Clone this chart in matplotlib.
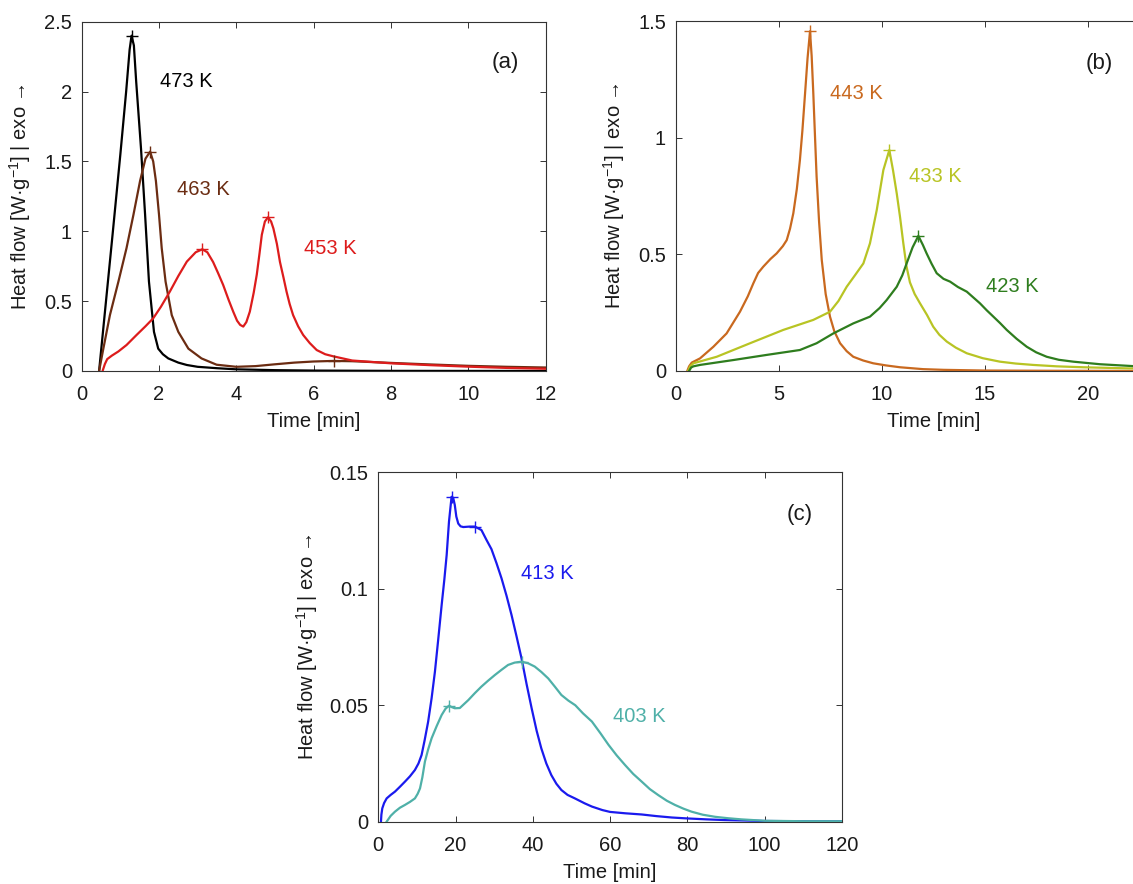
import matplotlib
matplotlib.use('Agg')
import matplotlib.pyplot as plt
from matplotlib.ticker import FuncFormatter

plt.rcParams['font.family'] = ['Liberation Sans', 'DejaVu Sans']
plt.rcParams['mathtext.fontset'] = 'custom'
plt.rcParams['mathtext.rm'] = 'Liberation Sans'
plt.rcParams['mathtext.it'] = 'Liberation Sans:italic'

# ---- panel (a) : 473 / 463 / 453 K ----
t473 = [0.45, 0.6, 0.8, 1.0, 1.15, 1.24, 1.29, 1.35, 1.41, 1.535, 1.64, 1.74, 1.87, 1.98,
        2.1, 2.24, 2.5, 2.72, 3.0, 3.5, 4.0, 5.0, 6.0, 8.0, 12.0]
q473 = [0.0, 0.42, 0.98, 1.55, 2.0, 2.30, 2.40, 2.33, 2.07, 1.59, 1.12, 0.64, 0.28, 0.16,
        0.12, 0.09, 0.06, 0.043, 0.03, 0.02, 0.012, 0.006, 0.003, 0.001, 0.0]

t463 = [0.45, 0.56, 0.73, 0.95, 1.16, 1.34, 1.51, 1.65, 1.77, 1.85, 1.92, 2.0, 2.07, 2.17,
        2.33, 2.5, 2.76, 3.1, 3.49, 4.0, 4.5, 5.0, 5.5, 6.0, 6.5, 7.0, 8.0, 9.0, 10.0, 11.0, 12.0]
q463 = [0.0, 0.16, 0.40, 0.64, 0.88, 1.12, 1.36, 1.52, 1.57, 1.50, 1.36, 1.12, 0.88, 0.64,
        0.40, 0.28, 0.16, 0.09, 0.045, 0.03, 0.035, 0.048, 0.06, 0.068, 0.072, 0.07, 0.058,
        0.047, 0.037, 0.03, 0.025]

t453 = [0.54, 0.6, 0.66, 0.78, 0.95, 1.16, 1.42, 1.65, 1.85, 2.05, 2.28, 2.5, 2.72, 2.95,
        3.12, 3.25, 3.40, 3.53, 3.66, 3.80, 3.92, 4.02, 4.10, 4.18, 4.26, 4.35, 4.45, 4.53,
        4.60, 4.66, 4.74, 4.82, 4.90, 4.96, 5.05, 5.13, 5.22, 5.30, 5.38, 5.47, 5.60, 5.73,
        5.9, 6.08, 6.3, 6.51, 7.0, 8.0, 9.0, 10.0, 11.0, 12.0]
q453 = [0.0, 0.05, 0.085, 0.11, 0.14, 0.186, 0.258, 0.32, 0.377, 0.46, 0.568, 0.68, 0.783, 0.85,
        0.871, 0.85, 0.78, 0.70, 0.616, 0.51, 0.425, 0.36, 0.33, 0.318, 0.35, 0.425, 0.56, 0.69,
        0.84, 0.975, 1.07, 1.10, 1.07, 1.02, 0.91, 0.78, 0.67, 0.568, 0.48, 0.40, 0.32, 0.258,
        0.20, 0.15, 0.12, 0.105, 0.075, 0.055, 0.042, 0.031, 0.022, 0.016]

# ---- panel (b) : 443 / 433 / 423 K ----
t443 = [0.56, 0.65, 0.78, 1.18, 1.83, 2.47, 3.12, 3.5, 3.77, 4.0, 4.25, 4.6, 4.90, 5.2, 5.39,
        5.55, 5.71, 5.88, 6.03, 6.15, 6.28, 6.40, 6.52, 6.60, 6.68, 6.76, 6.84, 6.96, 7.09,
        7.28, 7.49, 7.7, 7.98, 8.3, 8.62, 9.1, 9.59, 10.2, 10.89, 12.0, 13.0, 15.0, 18.0, 25.0]
q443 = [0.0, 0.02, 0.036, 0.054, 0.104, 0.161, 0.254, 0.32, 0.376, 0.42, 0.447, 0.48, 0.504,
        0.535, 0.561, 0.61, 0.676, 0.78, 0.904, 1.03, 1.19, 1.34, 1.456, 1.35, 1.19, 1.01, 0.833,
        0.64, 0.476, 0.33, 0.233, 0.17, 0.119, 0.085, 0.061, 0.045, 0.033, 0.024, 0.016, 0.008,
        0.005, 0.002, 0.001, 0.0]

t433 = [0.6, 0.7, 0.86, 1.99, 3.61, 5.22, 6.68, 7.49, 7.9, 8.30, 8.7, 9.11, 9.43, 9.76, 10.08,
        10.37, 10.55, 10.73, 10.89, 11.05, 11.2, 11.37, 11.6, 11.86, 12.2, 12.5, 12.8, 13.16,
        13.6, 14.13, 14.9, 15.74, 16.5, 17.36, 18.5, 19.79, 22.06, 25.0]
q433 = [0.0, 0.02, 0.033, 0.061, 0.119, 0.176, 0.219, 0.254, 0.30, 0.361, 0.41, 0.461, 0.547,
        0.69, 0.861, 0.947, 0.86, 0.761, 0.66, 0.547, 0.45, 0.38, 0.33, 0.29, 0.24, 0.19, 0.155,
        0.126, 0.10, 0.076, 0.055, 0.04, 0.032, 0.026, 0.02, 0.016, 0.011, 0.008]

t423 = [0.65, 0.75, 0.86, 1.18, 2.8, 4.42, 6.03, 6.84, 7.65, 8.62, 9.43, 9.9, 10.24, 10.73,
        11.0, 11.21, 11.5, 11.78, 12.0, 12.18, 12.42, 12.67, 13.0, 13.32, 13.7, 14.13, 14.45,
        14.77, 15.1, 15.42, 15.75, 16.07, 16.55, 17.04, 17.5, 18.01, 18.6, 19.3, 20.6, 22.2, 25.0]
q423 = [0.0, 0.015, 0.02, 0.026, 0.047, 0.069, 0.090, 0.119, 0.161, 0.204, 0.233, 0.27, 0.304,
        0.361, 0.41, 0.461, 0.53, 0.579, 0.54, 0.504, 0.46, 0.419, 0.395, 0.383, 0.36, 0.34,
        0.315, 0.29, 0.26, 0.233, 0.205, 0.176, 0.138, 0.104, 0.08, 0.061, 0.048, 0.04, 0.029,
        0.021, 0.013]

# ---- panel (c) : 413 / 403 K ----
t413 = [0.69, 0.8, 1.03, 1.5, 2.16, 3.2, 4.31, 5.6, 6.9, 8.2, 9.48, 10.4, 11.2, 12.0, 12.9,
        13.8, 14.66, 15.5, 16.4, 17.1, 17.7, 18.3, 18.97, 19.4, 19.8, 20.2, 20.7, 21.3, 22.0,
        23.7, 25.0, 26.7, 28.0, 29.3, 30.6, 31.9, 33.2, 34.5, 35.8, 37.1, 38.4, 39.7, 41.0,
        42.2, 43.5, 44.8, 46.1, 47.4, 49.0, 50.9, 53.4, 55.3, 58.0, 60.0, 64.0, 68.2, 72.0,
        76.0, 80.0, 85.0, 89.7, 95.0, 100.0, 110.0, 120.0]
q413 = [0.0, 0.003, 0.0057, 0.008, 0.010, 0.0115, 0.0129, 0.015, 0.0172, 0.0195, 0.0222, 0.025,
        0.0286, 0.035, 0.0429, 0.053, 0.0644, 0.078, 0.093, 0.104, 0.1145, 0.1288, 0.1395, 0.139,
        0.136, 0.131, 0.128, 0.1268, 0.1265, 0.1267, 0.1267, 0.1252, 0.121, 0.117, 0.111, 0.1045,
        0.097, 0.0887, 0.0795, 0.070, 0.059, 0.0487, 0.039, 0.0315, 0.025, 0.020, 0.0163, 0.0136,
        0.0115, 0.0100, 0.0079, 0.0065, 0.005, 0.0042, 0.0036, 0.0031, 0.0024, 0.0018, 0.0014,
        0.001, 0.0007, 0.0005, 0.0003, 0.0002, 0.0002]

t403 = [2.16, 3.2, 4.31, 5.6, 6.9, 8.2, 9.48, 10.2, 10.8, 11.4, 12.07, 12.9, 13.8, 15.1, 16.4,
        17.4, 18.3, 19.0, 19.8, 21.1, 22.2, 23.3, 25.0, 26.7, 28.4, 30.2, 31.9, 33.6, 35.3, 37.1,
        38.8, 40.5, 42.2, 44.0, 45.7, 47.4, 49.2, 51.0, 53.0, 55.3, 57.5, 59.6, 61.7, 63.9, 66.0,
        68.2, 70.3, 72.5, 74.7, 76.8, 79.0, 81.1, 84.0, 87.2, 90.5, 94.0, 100.0, 110.0, 120.0]
q403 = [0.0, 0.0025, 0.0043, 0.006, 0.0072, 0.0085, 0.010, 0.012, 0.0143, 0.019, 0.0258, 0.031,
        0.0358, 0.041, 0.0458, 0.0485, 0.0498, 0.0492, 0.0487, 0.0488, 0.0505, 0.0522, 0.0552,
        0.058, 0.0605, 0.063, 0.0652, 0.0673, 0.0683, 0.0687, 0.068, 0.0666, 0.0643, 0.0615,
        0.058, 0.0544, 0.052, 0.050, 0.0465, 0.043, 0.038, 0.033, 0.0285, 0.0243, 0.0205, 0.0172,
        0.014, 0.0114, 0.009, 0.0072, 0.0056, 0.0043, 0.003, 0.0021, 0.0015, 0.001, 0.0004,
        0.0002, 0.0002]

# peak markers (+)
peaks_a = {'473': ([1.29], [2.40]), '463': ([1.77, 6.53], [1.57, 0.072]),
           '453': ([3.12, 4.82], [0.871, 1.10])}
peaks_b = {'443': ([6.52], [1.456]), '433': ([10.37], [0.947]), '423': ([11.78], [0.579])}
peaks_c = {'413': ([18.97, 25.0], [0.1395, 0.1267]), '403': ([18.3, 37.3], [0.0498, 0.0687])}

col = {'473': '#000000', '463': '#6b2c12', '453': '#dd1c1c',
       '443': '#c9691f', '433': '#b8c424', '423': '#2e7d1e',
       '413': '#1a1aee', '403': '#4fb0a8'}

FS = 14.5     # tick / label / annotation size

W, H = 1133, 884
fig = plt.figure(figsize=(W / 100, H / 100), dpi=100)


def px_axes(left, right, top, bottom):
    return fig.add_axes([left / W, 1 - bottom / H, (right - left) / W, (bottom - top) / H])


def style(ax, xlim, ylim, xticks, yticks, ylab_x):
    ax.set_xlim(xlim)
    ax.set_ylim(ylim)
    ax.set_xticks(xticks)
    ax.set_yticks(yticks)
    fmt = FuncFormatter(lambda v, p: '%g' % round(v, 4))
    ax.xaxis.set_major_formatter(fmt)
    ax.yaxis.set_major_formatter(fmt)
    ax.tick_params(direction='in', top=True, right=True, length=4, width=0.7,
                   color='#333333', labelsize=FS, labelcolor='#1a1a1a')
    ax.tick_params(axis='x', pad=10)
    ax.tick_params(axis='y', pad=7)
    for s in ax.spines.values():
        s.set_color('#333333')
        s.set_linewidth(0.8)
    ax.set_xlabel('Time [min]', fontsize=FS, color='#1a1a1a', labelpad=6)
    ax.set_ylabel('Heat flow [W·g$^{-1}$] | exo →', fontsize=FS, color='#1a1a1a')
    ax.yaxis.set_label_coords(ylab_x, 0.5)


def draw(ax, t, q, key, peaks):
    ax.plot(t, q, color=col[key], lw=1.6, zorder=3)
    px, py = peaks[key]
    ax.plot(px, py, ls='none', marker='+', ms=9, mew=1.0, color=col[key], zorder=4)


# (a)
ax_a = px_axes(81.7, 545.5, 21.7, 371)
draw(ax_a, t473, q473, '473', peaks_a)
draw(ax_a, t463, q463, '463', peaks_a)
draw(ax_a, t453, q453, '453', peaks_a)
style(ax_a, (0, 12), (0, 2.5), range(0, 13, 2), [0, 0.5, 1, 1.5, 2, 2.5], -0.105)
ax_a.text(2.03, 2.07, '473 K', color=col['473'], fontsize=FS, va='center')
ax_a.text(2.47, 1.296, '463 K', color=col['463'], fontsize=FS, va='center')
ax_a.text(5.74, 0.878, '453 K', color=col['453'], fontsize=FS, va='center')
ax_a.text(10.95, 2.21, '(a)', fontsize=16, ha='center', va='center', color='#1a1a1a')

# (b) – axes run past the right edge of the figure, as in the source
ax_b = px_axes(675.7, 1190.7, 21, 371)
draw(ax_b, t443, q443, '443', peaks_b)
draw(ax_b, t433, q433, '433', peaks_b)
draw(ax_b, t423, q423, '423', peaks_b)
style(ax_b, (0, 25), (0, 1.5), range(0, 21, 5), [0, 0.5, 1, 1.5], -0.095)
ax_b.text(7.49, 1.19, '443 K', color=col['443'], fontsize=FS, va='center')
ax_b.text(11.33, 0.833, '433 K', color=col['433'], fontsize=FS, va='center')
ax_b.text(15.06, 0.361, '423 K', color=col['423'], fontsize=FS, va='center')
ax_b.text(20.55, 1.32, '(b)', fontsize=16, ha='center', va='center', color='#1a1a1a')

# (c)
ax_c = px_axes(378.3, 841.8, 472.3, 821.7)
draw(ax_c, t413, q413, '413', peaks_c)
draw(ax_c, t403, q403, '403', peaks_c)
style(ax_c, (0, 120), (0, 0.15), range(0, 121, 20), [0, 0.05, 0.1, 0.15], -0.126)
ax_c.text(37.0, 0.1067, '413 K', color=col['413'], fontsize=FS, va='center')
ax_c.text(60.8, 0.045, '403 K', color=col['403'], fontsize=FS, va='center')
ax_c.text(109.1, 0.1317, '(c)', fontsize=16, ha='center', va='center', color='#1a1a1a')

fig.savefig('out.png', dpi=100)
